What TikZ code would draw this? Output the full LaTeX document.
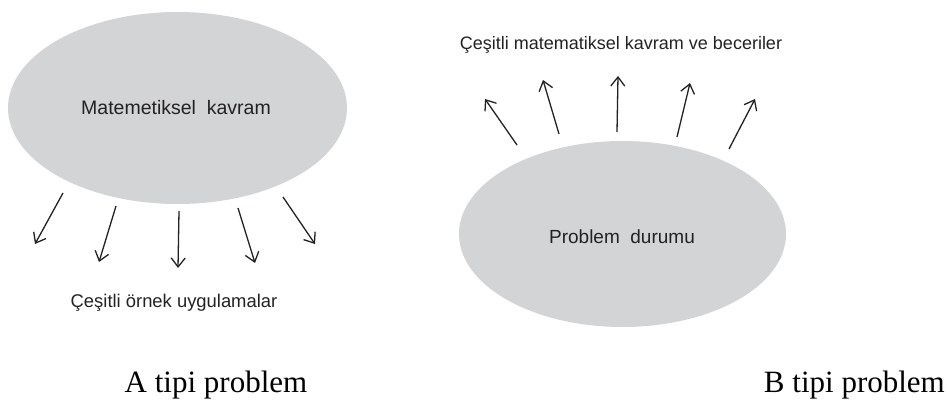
\documentclass[tikz,border=0pt]{standalone}
\usepackage{fontspec}
\setmainfont{Liberation Serif}
\newfontfamily\arial{Liberation Sans}
\usetikzlibrary{shapes.geometric,arrows.meta}
\definecolor{blobgray}{HTML}{D3D4D6}
\definecolor{inkgray}{HTML}{222222}
\begin{document}
\begin{tikzpicture}[x=1pt,y=-1pt,
  blob/.style={ellipse,fill=blobgray,draw=none,inner sep=0pt,outer sep=0pt},
  lbl/.style={anchor=base,inner sep=0pt,text=inkgray,font=\arial},
  captext/.style={anchor=base,inner sep=0pt,text=black},
  ray/.style={draw=inkgray,line width=1.3pt,-{Straight Barb[length=9pt,width=14pt,line width=1.3pt]}}]
\useasboundingbox (0,0) rectangle (947,401);

% type A: concept in the ellipse, examples spreading downwards
\node[blob,minimum width=339pt,minimum height=192pt] (ea) at (177.5,108) {};
\node[lbl,font=\arial\fontsize{19.5}{22}\selectfont] (ta) at (176,115) {Matemetiksel\ \ kavram};
\node[lbl,font=\arial\fontsize{18.4}{22}\selectfont] (xa) at (174,307) {Çeşitli örnek uygulamalar};

\coordinate (a1s) at (63,193);  \coordinate (a1e) at (35,244);
\coordinate (a2s) at (116,206); \coordinate (a2e) at (99,262);
\coordinate (a3s) at (179,211); \coordinate (a3e) at (178,268);
\coordinate (a4s) at (238,208); \coordinate (a4e) at (255,263);
\coordinate (a5s) at (283,197); \coordinate (a5e) at (315,244);
\foreach \i in {1,...,5} \draw[ray] (a\i s) -- (a\i e);

% type B: problem situation in the ellipse, concepts spreading upwards
\node[blob,minimum width=327pt,minimum height=186pt] (eb) at (622.5,234) {};
\node[lbl,font=\arial\fontsize{19}{22}\selectfont] (tb) at (622,243) {Problem\ \ durumu};
\node[lbl,font=\arial\fontsize{18}{21}\selectfont] (xb) at (621,50) {Çeşitli matematiksel kavram ve beceriler};

\coordinate (b1s) at (517,145); \coordinate (b1e) at (485,99);
\coordinate (b2s) at (559,134); \coordinate (b2e) at (543,80);
\coordinate (b3s) at (617,132); \coordinate (b3e) at (618,76);
\coordinate (b4s) at (677,137); \coordinate (b4e) at (690,83);
\coordinate (b5s) at (729,149); \coordinate (b5e) at (755,99);
\foreach \i in {1,...,5} \draw[ray] (b\i s) -- (b\i e);

% captions
\node[captext,font=\fontsize{31}{34}\selectfont] (ca) at (216,392) {A tipi problem};
\node[captext,font=\fontsize{31}{34}\selectfont,anchor=base east] (cb) at (945,392) {B tipi problem};
\end{tikzpicture}
\end{document}
